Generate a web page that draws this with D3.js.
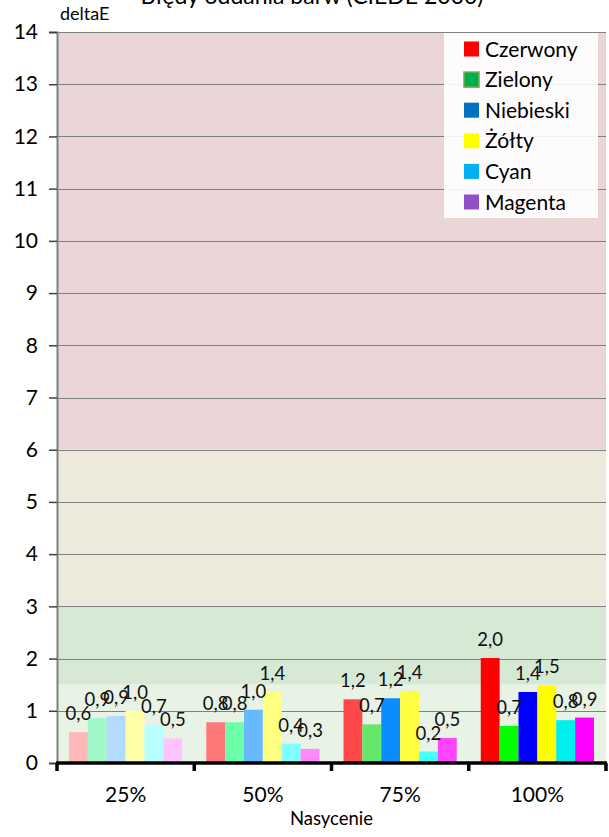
<!DOCTYPE html>
<html><head><meta charset="utf-8">
<script src="https://cdn.jsdelivr.net/npm/d3@7"></script>
<style>
html,body{margin:0;padding:0;background:#fff;}
svg{display:block;font-family:Lato,"Open Sans",sans-serif;}
</style></head>
<body>
<svg id="chart" width="609" height="837"></svg>
<script>
// ---- data ----
const categories = ["25%", "50%", "75%", "100%"];
const seriesNames = ["Czerwony", "Zielony", "Niebieski", "Żółty", "Cyan", "Magenta"];
const czerwony  = [0.59, 0.78, 1.22, 2.01];
const zielony   = [0.86, 0.78, 0.74, 0.71];
const niebieski = [0.90, 1.02, 1.24, 1.36];
const zolty     = [1.00, 1.36, 1.38, 1.49];
const cyan      = [0.72, 0.37, 0.22, 0.82];
const magenta   = [0.47, 0.27, 0.48, 0.87];
const yTicks = [0,1,2,3,4,5,6,7,8,9,10,11,12,13,14];
const bandLimits = [0, 1.5, 3, 6, 14];
const title = "Błędy oddania barw (CIEDE 2000)";
const yTitle = "deltaE";
const xTitle = "Nasycenie";

// ---- styles ----
const barColors = [
  ["#ffb7b7", "#ff7878", "#ff4848", "#ff0000"],
  ["#a0f8c8", "#6cffaa", "#66e66a", "#00ff00"],
  ["#b3dbff", "#66b8ff", "#0b8cff", "#0000ff"],
  ["#ffffa6", "#ffff80", "#ffff40", "#ffff00"],
  ["#b8ffff", "#80ffff", "#44ffff", "#00eeee"],
  ["#ffc4ff", "#ff88ff", "#ff44ff", "#ff00ff"]
];
const legendColors = ["#ff0000", "#00b050", "#0070c0", "#ffff00", "#00b0f0", "#9050c8"];
const bandColors = ["#e8f2e5", "#d6e9d5", "#edeadb", "#e9d4d6"];

const values = [czerwony, zielony, niebieski, zolty, cyan, magenta];
const fmt = v => d3.format(".1f")(v).replace(".", ",");

const svg = d3.select("#chart");
const L = 57, R = 606, T = 32, B = 763;

const y = d3.scaleLinear().domain([0, 14]).range([B, T]);
const x0 = d3.scaleBand().domain(categories).range([L, R]).padding(0);
const x1 = d3.scaleBand().domain(seriesNames).range([12, x0.bandwidth() - 12]).padding(0);

// background bands
svg.append("g").selectAll("rect")
  .data(d3.range(bandLimits.length - 1))
  .join("rect")
  .attr("x", L).attr("width", R - L)
  .attr("y", i => y(bandLimits[i + 1]))
  .attr("height", i => y(bandLimits[i]) - y(bandLimits[i + 1]))
  .attr("fill", i => bandColors[i]);

// gridlines
svg.append("g").selectAll("line")
  .data(yTicks.filter(d => d > 0))
  .join("line")
  .attr("x1", L).attr("x2", R)
  .attr("y1", d => Math.round(y(d)) + 0.5).attr("y2", d => Math.round(y(d)) + 0.5)
  .attr("stroke", "#808080").attr("stroke-width", 1.2);

// bars
const groups = svg.append("g").selectAll("g")
  .data(categories)
  .join("g")
  .attr("transform", c => `translate(${x0(c)},0)`);

groups.selectAll("rect")
  .data((c, ci) => seriesNames.map((s, si) => ({s, si, ci, v: values[si][ci]})))
  .join("rect")
  .attr("x", d => x1(d.s))
  .attr("width", x1.bandwidth())
  .attr("y", d => y(d.v))
  .attr("height", d => y(0) - y(d.v))
  .attr("fill", d => barColors[d.si][d.ci]);

groups.selectAll("text")
  .data((c, ci) => seriesNames.map((s, si) => ({s, si, ci, v: values[si][ci]})))
  .join("text")
  .attr("x", d => x1(d.s) + x1.bandwidth() / 2)
  .attr("y", d => y(d.v) - 12)
  .attr("text-anchor", "middle")
  .attr("font-size", 18.5)
  .attr("fill", "#111")
  .text(d => fmt(d.v));

// y axis
const yAxis = svg.append("g")
  .attr("transform", `translate(${L},0)`)
  .call(d3.axisLeft(y).tickValues(yTicks).tickSize(8).tickPadding(11).tickFormat(d3.format("d")));
yAxis.select(".domain").attr("stroke", "#7f7f7f").attr("stroke-width", 2);
yAxis.selectAll(".tick line").attr("stroke", "#404040").attr("stroke-width", 1.5);
yAxis.selectAll(".tick text").attr("font-size", 21).attr("fill", "#000").attr("font-family", "Lato");

// x axis
const xAxis = svg.append("g")
  .attr("transform", `translate(0,${B})`);
xAxis.append("line")
  .attr("x1", L - 1).attr("x2", R + 1).attr("y1", 0).attr("y2", 0)
  .attr("stroke", "#000").attr("stroke-width", 3.5);
xAxis.selectAll("line.tk")
  .data(categories.concat(["end"]))
  .join("line").attr("class", "tk")
  .attr("x1", (c, i) => i < categories.length ? x0(c) : R)
  .attr("x2", (c, i) => i < categories.length ? x0(c) : R)
  .attr("y1", 0).attr("y2", 8)
  .attr("stroke", "#000").attr("stroke-width", 3.5);
xAxis.selectAll("text")
  .data(categories)
  .join("text")
  .attr("x", c => x0(c) + x0.bandwidth() / 2)
  .attr("y", 39)
  .attr("text-anchor", "middle")
  .attr("font-size", 21)
  .text(c => c);

// titles
svg.append("text").attr("x", 312).attr("y", 4).attr("text-anchor", "middle")
  .attr("font-size", 23).text(title);
svg.append("text").attr("x", 60).attr("y", 20).attr("font-size", 18).text(yTitle);
svg.append("text").attr("x", (L + R) / 2).attr("y", 825).attr("text-anchor", "middle")
  .attr("font-size", 18.5).text(xTitle);

// legend
const lg = svg.append("g");
lg.append("rect").attr("x", 444).attr("y", 33).attr("width", 154).attr("height", 185)
  .attr("fill", "#ffffff").attr("fill-opacity", 0.9);
const li = lg.selectAll("g.item").data(seriesNames).join("g").attr("class", "item")
  .attr("transform", (d, i) => `translate(464,${49 + i * 30.6})`);
li.append("rect").attr("x", 0).attr("y", -7.5).attr("width", 15).attr("height", 15)
  .attr("fill", (d, i) => legendColors[i])
  .attr("stroke", (d, i) => i === 1 ? "#70ad47" : "none").attr("stroke-width", 1.5);
li.append("text").attr("x", 21).attr("y", 7.5).attr("font-size", 21).text(d => d);
</script>
</body></html>
